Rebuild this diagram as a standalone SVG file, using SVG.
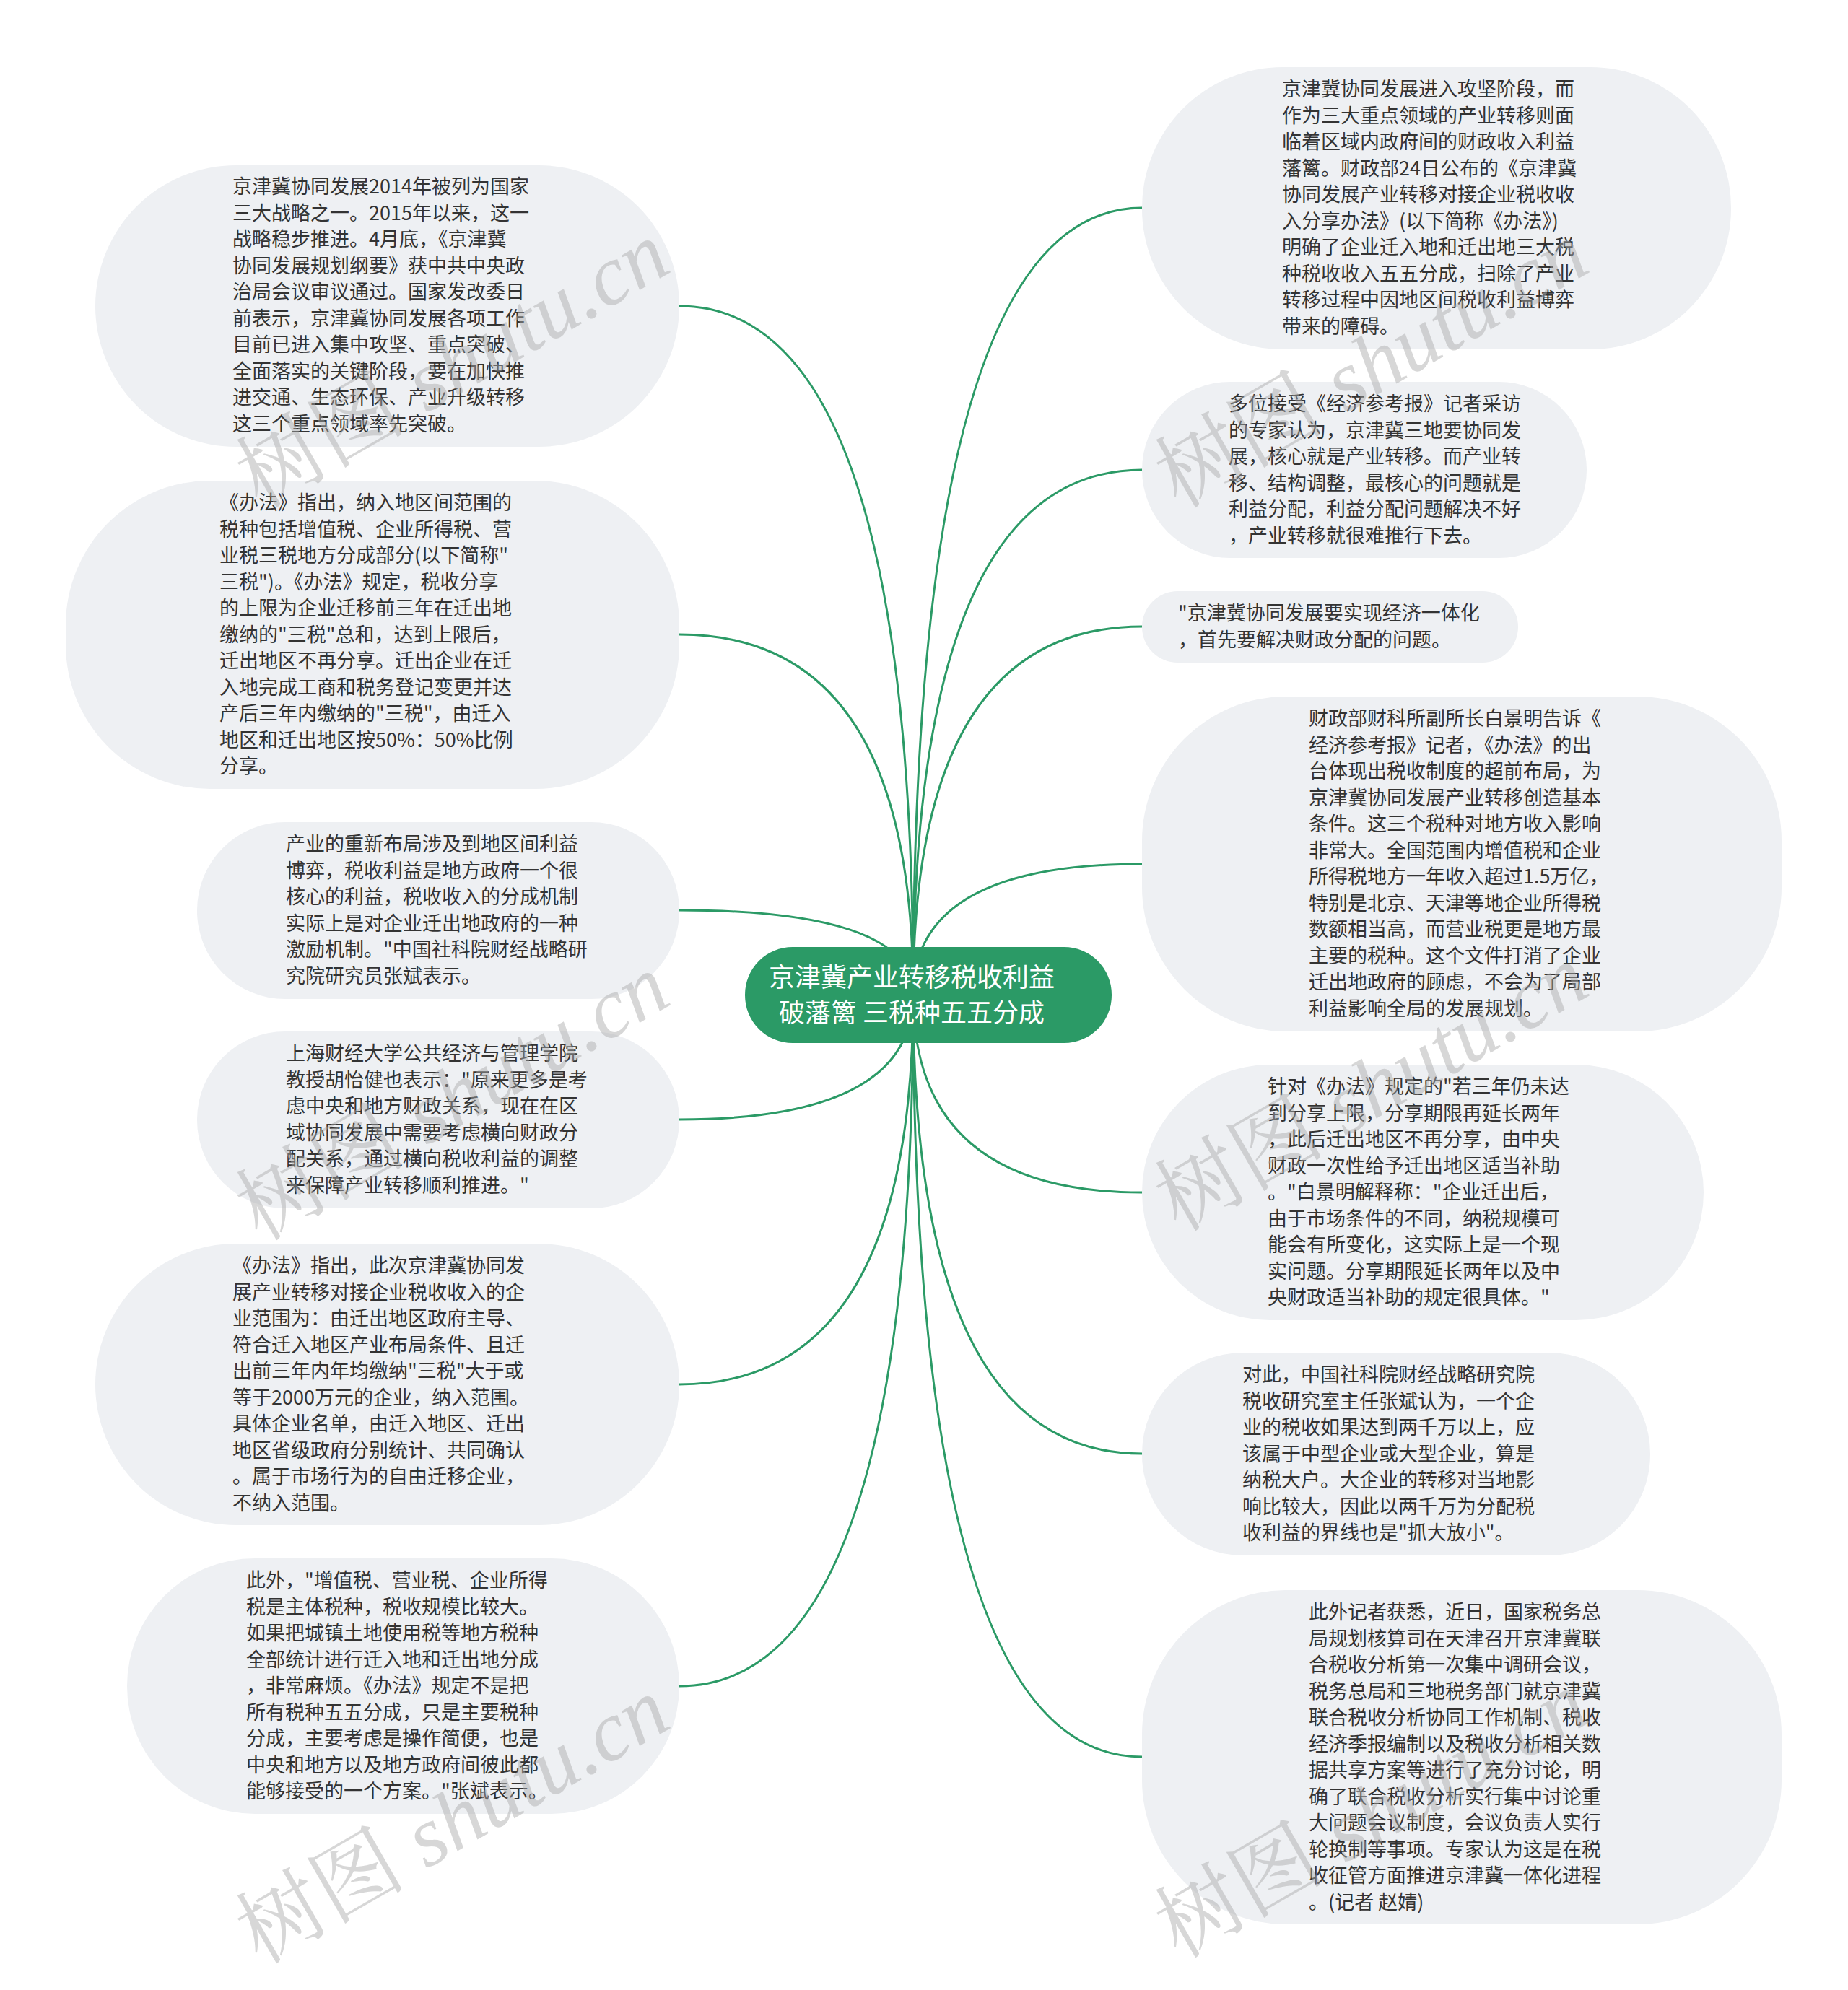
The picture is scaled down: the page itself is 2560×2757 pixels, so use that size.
<svg xmlns="http://www.w3.org/2000/svg" width="2560" height="2757" viewBox="0 0 2560 2757">
<style>
.bub{fill:#eef0f3;}
.t{font-family:"Noto Sans CJK SC","Noto Sans",sans-serif;font-size:27px;fill:#333333;}
.ct{font-family:"Noto Sans CJK SC","Noto Sans",sans-serif;font-size:36px;fill:#ffffff;text-anchor:middle;}
.edge{fill:none;stroke:#2b9a66;stroke-width:3;}
.wm{font-family:"Liberation Serif","Noto Serif CJK SC","Noto Sans CJK SC",serif;font-size:118px;fill:#a8a8a8;opacity:0.45;text-anchor:middle;}
</style>
<rect width="2560" height="2757" fill="#ffffff"/>
<g id="connectors">
<path class="edge" d="M1265 1378 Q1265 424 941 424"/>
<path class="edge" d="M1265 1378 Q1265 879 941 879"/>
<path class="edge" d="M1265 1378 Q1265 1261 941 1261"/>
<path class="edge" d="M1265 1378 Q1265 1551 941 1551"/>
<path class="edge" d="M1265 1378 Q1265 1918 941 1918"/>
<path class="edge" d="M1265 1378 Q1265 2336 941 2336"/>
<path class="edge" d="M1265 1378 Q1265 288 1582 288"/>
<path class="edge" d="M1265 1378 Q1265 651 1582 651"/>
<path class="edge" d="M1265 1378 Q1265 868 1582 868"/>
<path class="edge" d="M1265 1378 Q1265 1197 1582 1197"/>
<path class="edge" d="M1265 1378 Q1265 1652 1582 1652"/>
<path class="edge" d="M1265 1378 Q1265 2014 1582 2014"/>
<path class="edge" d="M1265 1378 Q1265 2434 1582 2434"/>
</g>
<g id="center">
<rect x="1032" y="1312" width="508" height="133" rx="66" fill="#2b9a66"/>
<text class="ct" x="1263" y="1367">京津冀产业转移税收利益</text>
<text class="ct" x="1263" y="1416">破藩篱 三税种五五分成</text>
</g>
<g id="L1">
<rect class="bub" x="132" y="229" width="809" height="390" rx="195"/>
<text class="t" x="322" y="268"><tspan x="322">京津冀协同发展2014年被列为国家</tspan><tspan x="322" dy="36.5">三大战略之一。2015年以来，这一</tspan><tspan x="322" dy="36.5">战略稳步推进。4月底，《京津冀</tspan><tspan x="322" dy="36.5">协同发展规划纲要》获中共中央政</tspan><tspan x="322" dy="36.5">治局会议审议通过。国家发改委日</tspan><tspan x="322" dy="36.5">前表示，京津冀协同发展各项工作</tspan><tspan x="322" dy="36.5">目前已进入集中攻坚、重点突破、</tspan><tspan x="322" dy="36.5">全面落实的关键阶段，要在加快推</tspan><tspan x="322" dy="36.5">进交通、生态环保、产业升级转移</tspan><tspan x="322" dy="36.5">这三个重点领域率先突破。</tspan></text>
</g>
<g id="L2">
<rect class="bub" x="91" y="666" width="850" height="427" rx="200"/>
<text class="t" x="304" y="706"><tspan x="304">《办法》指出，纳入地区间范围的</tspan><tspan x="304" dy="36.5">税种包括增值税、企业所得税、营</tspan><tspan x="304" dy="36.5">业税三税地方分成部分(以下简称"</tspan><tspan x="304" dy="36.5">三税")。《办法》规定，税收分享</tspan><tspan x="304" dy="36.5">的上限为企业迁移前三年在迁出地</tspan><tspan x="304" dy="36.5">缴纳的"三税"总和，达到上限后，</tspan><tspan x="304" dy="36.5">迁出地区不再分享。迁出企业在迁</tspan><tspan x="304" dy="36.5">入地完成工商和税务登记变更并达</tspan><tspan x="304" dy="36.5">产后三年内缴纳的"三税"，由迁入</tspan><tspan x="304" dy="36.5">地区和迁出地区按50%：50%比例</tspan><tspan x="304" dy="36.5">分享。</tspan></text>
</g>
<g id="L3">
<rect class="bub" x="273" y="1139" width="668" height="245" rx="122"/>
<text class="t" x="396" y="1179"><tspan x="396">产业的重新布局涉及到地区间利益</tspan><tspan x="396" dy="36.5">博弈，税收利益是地方政府一个很</tspan><tspan x="396" dy="36.5">核心的利益，税收收入的分成机制</tspan><tspan x="396" dy="36.5">实际上是对企业迁出地政府的一种</tspan><tspan x="396" dy="36.5">激励机制。"中国社科院财经战略研</tspan><tspan x="396" dy="36.5">究院研究员张斌表示。</tspan></text>
</g>
<g id="L4">
<rect class="bub" x="273" y="1429" width="668" height="245" rx="122"/>
<text class="t" x="396" y="1469"><tspan x="396">上海财经大学公共经济与管理学院</tspan><tspan x="396" dy="36.5">教授胡怡健也表示："原来更多是考</tspan><tspan x="396" dy="36.5">虑中央和地方财政关系，现在在区</tspan><tspan x="396" dy="36.5">域协同发展中需要考虑横向财政分</tspan><tspan x="396" dy="36.5">配关系，通过横向税收利益的调整</tspan><tspan x="396" dy="36.5">来保障产业转移顺利推进。"</tspan></text>
</g>
<g id="L5">
<rect class="bub" x="132" y="1723" width="809" height="390" rx="195"/>
<text class="t" x="322" y="1763"><tspan x="322">《办法》指出，此次京津冀协同发</tspan><tspan x="322" dy="36.5">展产业转移对接企业税收收入的企</tspan><tspan x="322" dy="36.5">业范围为：由迁出地区政府主导、</tspan><tspan x="322" dy="36.5">符合迁入地区产业布局条件、且迁</tspan><tspan x="322" dy="36.5">出前三年内年均缴纳"三税"大于或</tspan><tspan x="322" dy="36.5">等于2000万元的企业，纳入范围。</tspan><tspan x="322" dy="36.5">具体企业名单，由迁入地区、迁出</tspan><tspan x="322" dy="36.5">地区省级政府分别统计、共同确认</tspan><tspan x="322" dy="36.5">。属于市场行为的自由迁移企业，</tspan><tspan x="322" dy="36.5">不纳入范围。</tspan></text>
</g>
<g id="L6">
<rect class="bub" x="176" y="2159" width="765" height="354" rx="177"/>
<text class="t" x="341" y="2199"><tspan x="341">此外，"增值税、营业税、企业所得</tspan><tspan x="341" dy="36.5">税是主体税种，税收规模比较大。</tspan><tspan x="341" dy="36.5">如果把城镇土地使用税等地方税种</tspan><tspan x="341" dy="36.5">全部统计进行迁入地和迁出地分成</tspan><tspan x="341" dy="36.5">，非常麻烦。《办法》规定不是把</tspan><tspan x="341" dy="36.5">所有税种五五分成，只是主要税种</tspan><tspan x="341" dy="36.5">分成，主要考虑是操作简便，也是</tspan><tspan x="341" dy="36.5">中央和地方以及地方政府间彼此都</tspan><tspan x="341" dy="36.5">能够接受的一个方案。"张斌表示。</tspan></text>
</g>
<g id="R1">
<rect class="bub" x="1582" y="93" width="816" height="391" rx="195"/>
<text class="t" x="1776" y="133"><tspan x="1776">京津冀协同发展进入攻坚阶段，而</tspan><tspan x="1776" dy="36.5">作为三大重点领域的产业转移则面</tspan><tspan x="1776" dy="36.5">临着区域内政府间的财政收入利益</tspan><tspan x="1776" dy="36.5">藩篱。财政部24日公布的《京津冀</tspan><tspan x="1776" dy="36.5">协同发展产业转移对接企业税收收</tspan><tspan x="1776" dy="36.5">入分享办法》(以下简称《办法》)</tspan><tspan x="1776" dy="36.5">明确了企业迁入地和迁出地三大税</tspan><tspan x="1776" dy="36.5">种税收收入五五分成，扫除了产业</tspan><tspan x="1776" dy="36.5">转移过程中因地区间税收利益博弈</tspan><tspan x="1776" dy="36.5">带来的障碍。</tspan></text>
</g>
<g id="R2">
<rect class="bub" x="1582" y="529" width="616" height="244" rx="122"/>
<text class="t" x="1702" y="569"><tspan x="1702">多位接受《经济参考报》记者采访</tspan><tspan x="1702" dy="36.5">的专家认为，京津冀三地要协同发</tspan><tspan x="1702" dy="36.5">展，核心就是产业转移。而产业转</tspan><tspan x="1702" dy="36.5">移、结构调整，最核心的问题就是</tspan><tspan x="1702" dy="36.5">利益分配，利益分配问题解决不好</tspan><tspan x="1702" dy="36.5">，产业转移就很难推行下去。</tspan></text>
</g>
<g id="R3">
<rect class="bub" x="1582" y="819" width="521" height="99" rx="49.5"/>
<text class="t" x="1632" y="859"><tspan x="1632">"京津冀协同发展要实现经济一体化</tspan><tspan x="1632" dy="36.5">，首先要解决财政分配的问题。</tspan></text>
</g>
<g id="R4">
<rect class="bub" x="1582" y="965" width="886" height="464" rx="200"/>
<text class="t" x="1813" y="1005"><tspan x="1813">财政部财科所副所长白景明告诉《</tspan><tspan x="1813" dy="36.5">经济参考报》记者，《办法》的出</tspan><tspan x="1813" dy="36.5">台体现出税收制度的超前布局，为</tspan><tspan x="1813" dy="36.5">京津冀协同发展产业转移创造基本</tspan><tspan x="1813" dy="36.5">条件。这三个税种对地方收入影响</tspan><tspan x="1813" dy="36.5">非常大。全国范围内增值税和企业</tspan><tspan x="1813" dy="36.5">所得税地方一年收入超过1.5万亿，</tspan><tspan x="1813" dy="36.5">特别是北京、天津等地企业所得税</tspan><tspan x="1813" dy="36.5">数额相当高，而营业税更是地方最</tspan><tspan x="1813" dy="36.5">主要的税种。这个文件打消了企业</tspan><tspan x="1813" dy="36.5">迁出地政府的顾虑，不会为了局部</tspan><tspan x="1813" dy="36.5">利益影响全局的发展规划。</tspan></text>
</g>
<g id="R5">
<rect class="bub" x="1582" y="1475" width="778" height="354" rx="177"/>
<text class="t" x="1756" y="1515"><tspan x="1756">针对《办法》规定的"若三年仍未达</tspan><tspan x="1756" dy="36.5">到分享上限，分享期限再延长两年</tspan><tspan x="1756" dy="36.5">，此后迁出地区不再分享，由中央</tspan><tspan x="1756" dy="36.5">财政一次性给予迁出地区适当补助</tspan><tspan x="1756" dy="36.5">。"白景明解释称："企业迁出后，</tspan><tspan x="1756" dy="36.5">由于市场条件的不同，纳税规模可</tspan><tspan x="1756" dy="36.5">能会有所变化，这实际上是一个现</tspan><tspan x="1756" dy="36.5">实问题。分享期限延长两年以及中</tspan><tspan x="1756" dy="36.5">央财政适当补助的规定很具体。"</tspan></text>
</g>
<g id="R6">
<rect class="bub" x="1582" y="1874" width="704" height="281" rx="140"/>
<text class="t" x="1721" y="1914"><tspan x="1721">对此，中国社科院财经战略研究院</tspan><tspan x="1721" dy="36.5">税收研究室主任张斌认为，一个企</tspan><tspan x="1721" dy="36.5">业的税收如果达到两千万以上，应</tspan><tspan x="1721" dy="36.5">该属于中型企业或大型企业，算是</tspan><tspan x="1721" dy="36.5">纳税大户。大企业的转移对当地影</tspan><tspan x="1721" dy="36.5">响比较大，因此以两千万为分配税</tspan><tspan x="1721" dy="36.5">收利益的界线也是"抓大放小"。</tspan></text>
</g>
<g id="R7">
<rect class="bub" x="1582" y="2203" width="886" height="463" rx="200"/>
<text class="t" x="1813" y="2243"><tspan x="1813">此外记者获悉，近日，国家税务总</tspan><tspan x="1813" dy="36.5">局规划核算司在天津召开京津冀联</tspan><tspan x="1813" dy="36.5">合税收分析第一次集中调研会议，</tspan><tspan x="1813" dy="36.5">税务总局和三地税务部门就京津冀</tspan><tspan x="1813" dy="36.5">联合税收分析协同工作机制、税收</tspan><tspan x="1813" dy="36.5">经济季报编制以及税收分析相关数</tspan><tspan x="1813" dy="36.5">据共享方案等进行了充分讨论，明</tspan><tspan x="1813" dy="36.5">确了联合税收分析实行集中讨论重</tspan><tspan x="1813" dy="36.5">大问题会议制度，会议负责人实行</tspan><tspan x="1813" dy="36.5">轮换制等事项。专家认为这是在税</tspan><tspan x="1813" dy="36.5">收征管方面推进京津冀一体化进程</tspan><tspan x="1813" dy="36.5">。(记者 赵婧)</tspan></text>
</g>
<g id="watermarks">
<text class="wm" transform="translate(647 540) rotate(-30)">树图 <tspan font-style="italic">shutu.cn</tspan></text>
<text class="wm" transform="translate(1920 540) rotate(-30)">树图 <tspan font-style="italic">shutu.cn</tspan></text>
<text class="wm" transform="translate(647 1555) rotate(-30)">树图 <tspan font-style="italic">shutu.cn</tspan></text>
<text class="wm" transform="translate(1920 1542) rotate(-30)">树图 <tspan font-style="italic">shutu.cn</tspan></text>
<text class="wm" transform="translate(647 2557) rotate(-30)">树图 <tspan font-style="italic">shutu.cn</tspan></text>
<text class="wm" transform="translate(1920 2549) rotate(-30)">树图 <tspan font-style="italic">shutu.cn</tspan></text>
</g>
</svg>
